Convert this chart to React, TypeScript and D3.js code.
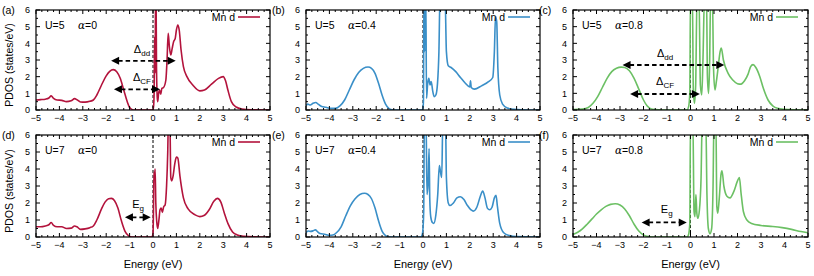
import React from 'react';
import * as d3 from 'd3';

type Pt = [number, number];

// Panel (a) U=5, alpha=0
const dosA: Pt[] = [
  [-5, 0.6], [-4.8, 0.62], [-4.6, 0.65], [-4.45, 0.72], [-4.35, 0.85], [-4.25, 0.7], [-4.1, 0.6], [-3.9, 0.58],
  [-3.7, 0.5], [-3.5, 0.55], [-3.35, 0.68], [-3.25, 0.62], [-3.1, 0.48], [-2.9, 0.47], [-2.7, 0.52], [-2.55, 0.6],
  [-2.4, 0.9], [-2.2, 1.5], [-2.0, 2.05], [-1.85, 2.32], [-1.7, 2.42], [-1.55, 2.3], [-1.4, 1.9], [-1.25, 1.2],
  [-1.1, 0.5], [-1.0, 0.15], [-0.9, 0.04], [-0.8, 0.0], [0.0, 0.0], [0.03, 0.3], [0.05, 1.2], [0.07, 4.4],
  [0.09, 2.2], [0.11, 7], [0.13, 7], [0.15, 2.5], [0.18, 0.8], [0.2, 0.5], [0.24, 1.0], [0.28, 1.2], [0.33, 0.95],
  [0.38, 1.3], [0.45, 1.35], [0.55, 1.8], [0.6, 3.0], [0.65, 4.6], [0.7, 3.8], [0.76, 3.3], [0.82, 3.7], [0.88, 4.1],
  [0.95, 4.3], [1.0, 4.8], [1.06, 5.1], [1.12, 4.8], [1.2, 3.6], [1.3, 2.6], [1.45, 2.0], [1.7, 1.5], [2.0, 1.15],
  [2.2, 1.2], [2.5, 1.55], [2.8, 1.9], [3.0, 2.0], [3.1, 1.75], [3.2, 1.2], [3.35, 0.5], [3.55, 0.18], [3.8, 0.06],
  [4.2, 0.01], [5, 0],
];

// Panel (b) U=5, alpha=0.4
const dosB: Pt[] = [
  [-5, 0.25], [-4.92, 0.35], [-4.82, 0.3], [-4.7, 0.4], [-4.58, 0.45], [-4.48, 0.35], [-4.35, 0.22], [-4.15, 0.16],
  [-3.95, 0.1], [-3.75, 0.1], [-3.55, 0.25], [-3.35, 0.6], [-3.15, 1.2], [-2.95, 1.8], [-2.75, 2.25], [-2.55, 2.5],
  [-2.35, 2.58], [-2.2, 2.5], [-2.05, 2.2], [-1.9, 1.6], [-1.75, 0.9], [-1.6, 0.35], [-1.45, 0.08], [-1.3, 0.01],
  [-1.1, 0], [-0.05, 0], [0.0, 0.1], [0.02, 0.6], [0.04, 7], [0.07, 3.5], [0.09, 7], [0.12, 7], [0.15, 0.7],
  [0.2, 1.6], [0.25, 1.9], [0.3, 1.5], [0.35, 1.7], [0.42, 1.1], [0.48, 0.8], [0.55, 0.9], [0.62, 1.6], [0.68, 3.5],
  [0.73, 7], [0.94, 7], [1.0, 3.5], [1.08, 2.65], [1.2, 2.55], [1.4, 2.3], [1.6, 1.95], [1.8, 1.62], [2.0, 1.38],
  [2.03, 1.75], [2.06, 1.35], [2.2, 1.25], [2.5, 1.45], [2.8, 1.7], [2.98, 1.95], [3.05, 3.5], [3.1, 5.6],
  [3.15, 5.3], [3.2, 2.5], [3.28, 0.9], [3.4, 0.35], [3.6, 0.12], [3.9, 0.04], [4.5, 0.0], [5, 0],
];

// Panel (c) U=5, alpha=0.8
const dosC: Pt[] = [
  [-5, 0.02], [-4.6, 0.05], [-4.35, 0.15], [-4.15, 0.4], [-3.95, 0.8], [-3.75, 1.35], [-3.55, 1.9], [-3.35, 2.3],
  [-3.15, 2.5], [-2.95, 2.57], [-2.8, 2.55], [-2.6, 2.35], [-2.4, 1.9], [-2.2, 1.25], [-2.0, 0.6], [-1.85, 0.25],
  [-1.7, 0.08], [-1.5, 0.02], [-1.2, 0], [-0.15, 0], [-0.08, 0.2], [-0.03, 1.0], [0.0, 7], [0.08, 7], [0.12, 1.2],
  [0.17, 0.4], [0.22, 1.5], [0.28, 7], [0.36, 7], [0.42, 1.5], [0.48, 0.9], [0.53, 3.0], [0.6, 7], [0.68, 7],
  [0.72, 2.0], [0.77, 1.0], [0.81, 2.5], [0.86, 7], [0.93, 7], [0.98, 2.5], [1.04, 1.2], [1.1, 1.7], [1.18, 2.6],
  [1.26, 3.5], [1.31, 3.72], [1.4, 3.0], [1.6, 2.2], [1.8, 1.8], [2.0, 1.58], [2.15, 1.55], [2.3, 1.75],
  [2.45, 2.15], [2.56, 2.6], [2.66, 2.72], [2.78, 2.55], [2.95, 2.0], [3.1, 1.3], [3.3, 0.6], [3.5, 0.25],
  [3.7, 0.1], [4.0, 0.04], [4.5, 0.01], [5, 0],
];

// Panel (d) U=7, alpha=0
const dosD: Pt[] = [
  [-5, 0.6], [-4.8, 0.6], [-4.6, 0.65], [-4.45, 0.72], [-4.35, 0.85], [-4.25, 0.68], [-4.1, 0.6], [-3.9, 0.6],
  [-3.7, 0.5], [-3.5, 0.52], [-3.35, 0.65], [-3.25, 0.6], [-3.1, 0.45], [-2.9, 0.48], [-2.7, 0.55], [-2.55, 0.65],
  [-2.4, 1.0], [-2.2, 1.65], [-2.05, 2.05], [-1.9, 2.25], [-1.78, 2.27], [-1.65, 2.15], [-1.5, 1.7], [-1.35, 0.95],
  [-1.2, 0.35], [-1.05, 0.08], [-0.9, 0.0], [-0.05, 0], [0.0, 0.2], [0.02, 1.5], [0.04, 3.8], [0.06, 3.4],
  [0.09, 4.0], [0.12, 2.0], [0.16, 0.9], [0.2, 0.5], [0.26, 1.1], [0.3, 1.6], [0.35, 1.7], [0.4, 1.45],
  [0.45, 1.75], [0.52, 1.9], [0.58, 3.0], [0.63, 5.0], [0.66, 7], [0.72, 7], [0.76, 3.5], [0.8, 3.3], [0.86, 3.6],
  [0.93, 4.3], [1.0, 4.7], [1.06, 4.65], [1.15, 3.6], [1.3, 2.3], [1.5, 1.65], [1.8, 1.3], [2.0, 1.2], [2.2, 1.28],
  [2.4, 1.6], [2.6, 2.1], [2.75, 2.27], [2.9, 2.05], [3.05, 1.4], [3.2, 0.8], [3.4, 0.3], [3.6, 0.12], [3.9, 0.04],
  [4.3, 0.01], [5, 0],
];

// Panel (e) U=7, alpha=0.4
const dosE: Pt[] = [
  [-5, 0.25], [-4.9, 0.35], [-4.8, 0.33], [-4.7, 0.36], [-4.6, 0.42], [-4.5, 0.3], [-4.4, 0.2], [-4.2, 0.16],
  [-4.0, 0.1], [-3.85, 0.12], [-3.7, 0.25], [-3.5, 0.6], [-3.3, 1.25], [-3.1, 1.85], [-2.9, 2.25], [-2.7, 2.5],
  [-2.5, 2.57], [-2.35, 2.5], [-2.2, 2.25], [-2.05, 1.7], [-1.9, 0.95], [-1.75, 0.35], [-1.6, 0.08], [-1.45, 0.01],
  [-1.2, 0], [-0.1, 0], [-0.03, 0.15], [0.0, 0.5], [0.03, 1.5], [0.06, 7], [0.13, 7], [0.17, 2.5], [0.22, 3.2],
  [0.26, 5.2], [0.29, 2.2], [0.33, 1.2], [0.4, 0.85], [0.46, 0.8], [0.55, 1.3], [0.63, 2.5], [0.7, 4.2],
  [0.75, 3.8], [0.8, 3.5], [0.85, 7], [0.96, 7], [1.0, 3.5], [1.08, 2.0], [1.15, 1.85], [1.3, 2.0], [1.45, 2.3],
  [1.6, 2.37], [1.75, 2.2], [1.9, 1.85], [2.05, 1.6], [2.15, 1.52], [2.3, 1.75], [2.45, 2.4], [2.55, 2.7],
  [2.65, 2.3], [2.75, 1.7], [2.85, 1.6], [2.95, 1.75], [3.05, 2.3], [3.12, 2.45], [3.18, 1.8], [3.28, 0.8],
  [3.45, 0.25], [3.7, 0.08], [4.0, 0.02], [5, 0],
];

// Panel (f) U=7, alpha=0.8
const dosF: Pt[] = [
  [-5, 0.15], [-4.8, 0.28], [-4.6, 0.48], [-4.4, 0.75], [-4.2, 1.05], [-4.0, 1.35], [-3.8, 1.6], [-3.6, 1.8],
  [-3.4, 1.92], [-3.2, 1.96], [-3.0, 1.88], [-2.8, 1.65], [-2.6, 1.25], [-2.4, 0.75], [-2.2, 0.35], [-2.0, 0.12],
  [-1.8, 0.03], [-1.5, 0], [-0.15, 0], [-0.08, 0.15], [-0.03, 0.8], [0.0, 7], [0.1, 7], [0.15, 1.5], [0.19, 1.2],
  [0.23, 2.5], [0.27, 1.4], [0.31, 1.1], [0.38, 1.6], [0.45, 3.5], [0.5, 7], [0.65, 7], [0.7, 2.5], [0.76, 0.5],
  [0.83, 0.2], [0.9, 0.5], [0.96, 3.0], [1.0, 7], [1.08, 7], [1.12, 1.8], [1.16, 1.4], [1.22, 2.2], [1.3, 3.7],
  [1.34, 3.9], [1.42, 3.0], [1.55, 2.4], [1.68, 2.3], [1.85, 2.7], [2.0, 3.3], [2.08, 3.5], [2.15, 2.6],
  [2.25, 1.5], [2.4, 1.0], [2.6, 0.8], [3.0, 0.68], [3.5, 0.62], [3.9, 0.55], [4.3, 0.45], [4.7, 0.32], [5, 0.25],
];

const xTickValues = [-5, -4, -3, -2, -1, 0, 1, 2, 3, 4, 5];
const yTickValues = [0, 1, 2, 3, 4, 5, 6];
const panelLabels = ['(a)', '(b)', '(c)', '(d)', '(e)', '(f)'];
const uLabels = ['U=5', 'U=5', 'U=5', 'U=7', 'U=7', 'U=7'];
const alphaLabels = ['0', '0.4', '0.8', '0', '0.4', '0.8'];
const columnColors = ['#b3133c', '#3a8fc8', '#6cc064'];
const legendText = 'Mn d';

type Arrow = { yv: number; x1: number; x2: number; main: string; sub: string; lx: number; ly: number };
const arrowsA: Arrow[] = [
  { yv: 2.95, x1: -1.79, x2: 0.97, main: 'Δ', sub: 'dd', lx: -0.47, ly: 3.45 },
  { yv: 1.24, x1: -1.67, x2: 0.3, main: 'Δ', sub: 'CF', lx: -0.47, ly: 1.75 },
];
const arrowsC: Arrow[] = [
  { yv: 2.7, x1: -2.89, x2: 1.44, main: 'Δ', sub: 'dd', lx: -1.08, ly: 3.2 },
  { yv: 0.96, x1: -2.57, x2: 0.4, main: 'Δ', sub: 'CF', lx: -1.08, ly: 1.5 },
];
const arrowsD: Arrow[] = [{ yv: 1.16, x1: -1.2, x2: -0.1, main: 'E', sub: 'g', lx: -0.64, ly: 1.7 }];
const arrowsF: Arrow[] = [{ yv: 0.86, x1: -2.08, x2: -0.16, main: 'E', sub: 'g', lx: -1.01, ly: 1.4 }];

const panelData = [dosA, dosB, dosC, dosD, dosE, dosF];
const panelArrows = [arrowsA, [], arrowsC, arrowsD, [], arrowsF];

const COLS = [
  { left: 36, right: 270 },
  { left: 306, right: 540 },
  { left: 573, right: 808 },
];
const ROWS = [
  { top: 10, bottom: 110 },
  { top: 135, bottom: 237 },
];

const FONT = '"Liberation Sans", Arial, Helvetica, sans-serif';
const fmt = (v: number) => (v < 0 ? '\u2212' + Math.abs(v) : String(v));

function Panel({ i }: { i: number }) {
  const col = COLS[i % 3];
  const row = ROWS[Math.floor(i / 3)];
  const color = columnColors[i % 3];
  const x = d3.scaleLinear().domain([-5, 5]).range([col.left, col.right]);
  const y = d3.scaleLinear().domain([0, 6]).range([row.bottom, row.top]);
  const line = d3
    .line<Pt>()
    .x((d) => x(d[0]))
    .y((d) => y(d[1]))
    .curve(d3.curveMonotoneX);
  const clipId = `clip-${i}`;
  const xMinor = d3.range(-5, 5.0001, 0.25).filter((v) => Math.abs(v - Math.round(v)) > 1e-6);
  const yMinor = d3.range(0, 6.0001, 0.5).filter((v) => Math.abs(v - Math.round(v)) > 1e-6);
  const tickLen = 4;
  const minorLen = 2;
  const isBottom = i >= 3;
  const isFirstCol = i % 3 === 0;
  const arrows = panelArrows[i];

  return (
    <g>
      <defs>
        <clipPath id={clipId}>
          <rect x={col.left} y={row.top} width={col.right - col.left} height={row.bottom - row.top} />
        </clipPath>
      </defs>
      {/* zero line */}
      <line x1={x(0)} x2={x(0)} y1={row.top} y2={row.bottom} stroke="#000" strokeWidth={1} strokeDasharray="3,2" />
      {/* curve */}
      <path d={line(panelData[i]) || ''} fill="none" stroke={color} strokeWidth={1.6} clipPath={`url(#${clipId})`} strokeLinejoin="round" />
      {/* ticks */}
      {xTickValues.map((v) => (
        <g key={'xt' + v}>
          <line x1={x(v)} x2={x(v)} y1={row.bottom} y2={row.bottom - tickLen} stroke="#000" strokeWidth={1} />
          <line x1={x(v)} x2={x(v)} y1={row.top} y2={row.top + tickLen} stroke="#000" strokeWidth={1} />
          <text x={x(v)} y={row.bottom + 11} fontSize={9} textAnchor="middle" fontFamily={FONT}>
            {fmt(v)}
          </text>
        </g>
      ))}
      {xMinor.map((v) => (
        <g key={'xm' + v}>
          <line x1={x(v)} x2={x(v)} y1={row.bottom} y2={row.bottom - minorLen} stroke="#000" strokeWidth={1} />
          <line x1={x(v)} x2={x(v)} y1={row.top} y2={row.top + minorLen} stroke="#000" strokeWidth={1} />
        </g>
      ))}
      {yTickValues.map((v) => (
        <g key={'yt' + v}>
          <line x1={col.left} x2={col.left + tickLen} y1={y(v)} y2={y(v)} stroke="#000" strokeWidth={1} />
          <line x1={col.right} x2={col.right - tickLen} y1={y(v)} y2={y(v)} stroke="#000" strokeWidth={1} />
          <text x={col.left - 6} y={y(v) + 3.2} fontSize={9} textAnchor="end" fontFamily={FONT}>
            {fmt(v)}
          </text>
        </g>
      ))}
      {yMinor.map((v) => (
        <g key={'ym' + v}>
          <line x1={col.left} x2={col.left + minorLen} y1={y(v)} y2={y(v)} stroke="#000" strokeWidth={1} />
          <line x1={col.right} x2={col.right - minorLen} y1={y(v)} y2={y(v)} stroke="#000" strokeWidth={1} />
        </g>
      ))}
      {/* frame */}
      <rect x={col.left} y={row.top} width={col.right - col.left} height={row.bottom - row.top} fill="none" stroke="#000" strokeWidth={1.2} />
      {/* panel label */}
      <text x={col.left - 34} y={row.top + 4} fontSize={10.5} fontFamily={FONT}>
        {panelLabels[i]}
      </text>
      {/* U / alpha */}
      <text x={col.left + 9} y={row.top + 19} fontSize={10.5} fontFamily={FONT}>
        {uLabels[i]}
      </text>
      <text x={col.left + 42} y={row.top + 19} fontSize={10.5} fontFamily={FONT}>
        <tspan fontStyle="italic" fontFamily='"DejaVu Serif", serif'>α</tspan>
        <tspan>={alphaLabels[i]}</tspan>
      </text>
      {/* legend */}
      <text x={col.right - 35} y={row.top + 10.5} fontSize={10.5} textAnchor="end" fontFamily={FONT}>
        {legendText}
      </text>
      <line x1={col.right - 32} x2={col.right - 10} y1={row.top + 7} y2={row.top + 7} stroke={color} strokeWidth={1.6} />
      {/* arrows */}
      {arrows.map((a, k) => {
        const xa = x(a.x1);
        const xb = x(a.x2);
        const ya = y(a.yv);
        const hl = 8;
        const hw = 4;
        return (
          <g key={'ar' + k}>
            <line x1={xa + hl - 1} x2={xb - hl + 1} y1={ya} y2={ya} stroke="#000" strokeWidth={1.8} strokeDasharray="4.5,3" />
            <polygon points={`${xa},${ya} ${xa + hl},${ya - hw} ${xa + hl},${ya + hw}`} fill="#000" />
            <polygon points={`${xb},${ya} ${xb - hl},${ya - hw} ${xb - hl},${ya + hw}`} fill="#000" />
            <text x={x(a.lx)} y={y(a.ly)} fontSize={11} textAnchor="middle" fontFamily={FONT}>
              <tspan>{a.main}</tspan>
              <tspan fontSize={8} dy={3}>{a.sub}</tspan>
            </text>
          </g>
        );
      })}
      {isFirstCol && (
        <text
          transform={`translate(${col.left - 23},${(row.top + row.bottom) / 2 + 5}) rotate(-90)`}
          fontSize={10.5}
          textAnchor="middle"
          fontFamily={FONT}
        >
          PDOS (states/eV)
        </text>
      )}
      {isBottom && (
        <text x={(col.left + col.right) / 2} y={row.bottom + 31} fontSize={11} textAnchor="middle" fontFamily={FONT}>
          Energy (eV)
        </text>
      )}
    </g>
  );
}

export default function App() {
  return (
    <svg
      width={814}
      height={276}
      style={{ position: 'absolute', left: 0, top: 0, background: '#fff', display: 'block' }}
    >
      <rect x={0} y={0} width={814} height={276} fill="#fff" />
      {[0, 1, 2, 3, 4, 5].map((i) => (
        <Panel key={i} i={i} />
      ))}
    </svg>
  );
}
